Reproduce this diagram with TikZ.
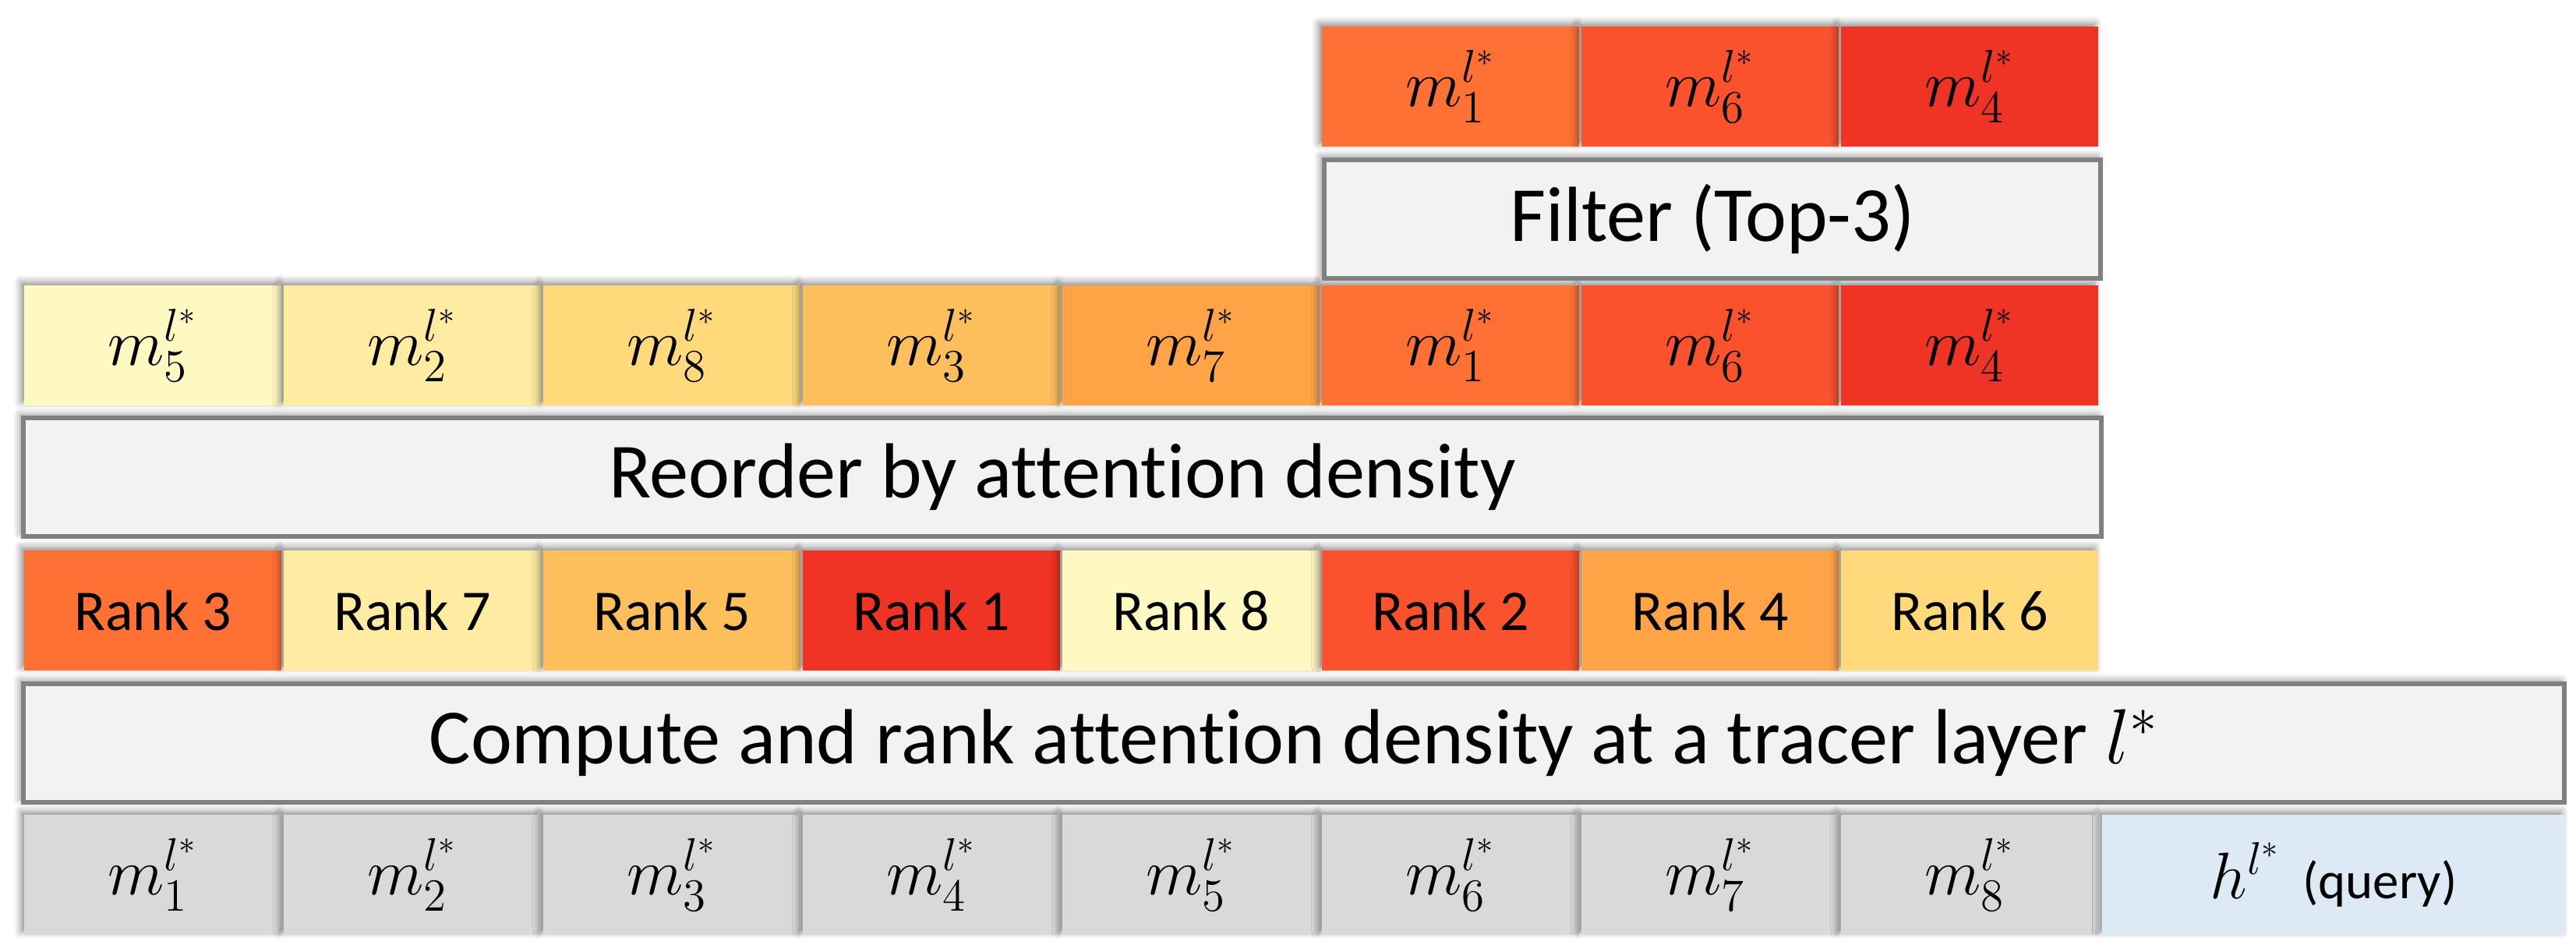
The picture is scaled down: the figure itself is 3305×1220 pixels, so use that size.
\documentclass[tikz,border=0pt]{standalone}
\usepackage{fix-cm}
\usepackage{fontspec}
\setmainfont[Ligatures=NoCommon]{Carlito}
\usetikzlibrary{shadows.blur}

\definecolor{rk1}{HTML}{EF3324}
\definecolor{rk2}{HTML}{FA522D}
\definecolor{rk3}{HTML}{FE7034}
\definecolor{rk4}{HTML}{FEA447}
\definecolor{rk5}{HTML}{FDBF5C}
\definecolor{rk6}{HTML}{FFD97A}
\definecolor{rk7}{HTML}{FFECA0}
\definecolor{rk8}{HTML}{FFF8C1}
\definecolor{tokgray}{HTML}{D9D9D9}
\definecolor{qblue}{HTML}{DDEAF6}
\definecolor{barfill}{HTML}{F2F2F2}
\definecolor{bardraw}{HTML}{808080}

\tikzset{
  shade/.style={blur shadow={shadow xshift=-1.2pt, shadow yshift=1.2pt,
      shadow blur radius=2.5pt, shadow opacity=45}},
  cell/.style={shade, minimum width=3.3cm, minimum height=1.54cm,
      inner sep=0pt, font=\fontsize{24}{26}\selectfont},
  rankcell/.style={cell, font=\fontsize{21}{23}\selectfont},
  stepbar/.style={shade, draw=bardraw, fill=barfill, line width=0.06cm,
      minimum height=1.52cm, inner sep=0pt, font=\fontsize{28.5}{31}\selectfont},
}

\begin{document}
\begin{tikzpicture}[x=0.01cm, y=-0.01cm]
\useasboundingbox (0,0) rectangle (3305,1220);

% tokens and query
\foreach \i in {1,...,8}
  \node[cell, fill=tokgray] (m\i) at ({196+333*(\i-1)},1122) {$m_{\i}^{l^*}$};
\node[cell, fill=qblue, minimum width=5.93cm] (q) at (2994,1122)
  {$h^{l^*}$\,\,{\fontsize{19}{21}\selectfont(query)}};

\node[stepbar, minimum width=32.58cm] (compute) at (1660,953)
  {Compute and rank attention density at a tracer layer $l^*$};

% ranks
\foreach \r [count=\i] in {3,7,5,1,8,2,4,6}
  \node[rankcell, fill=rk\r] (rank\i) at ({196+333*(\i-1)},783) {Rank \r};

\node[stepbar, minimum width=26.64cm] (reorder) at (1363,612)
  {Reorder by attention density};

% reordered
\foreach \k [count=\i] in {5,2,8,3,7,1,6,4} {
  \pgfmathtruncatemacro\r{9-\i}
  \node[cell, fill=rk\r] (ord\i) at ({196+333*(\i-1)},443) {$m_{\k}^{l^*}$};
}

\node[stepbar, minimum width=9.96cm] (filter) at (2197,281) {Filter (Top-3)};

% kept
\foreach \k [count=\i] in {1,6,4} {
  \pgfmathtruncatemacro\r{4-\i}
  \node[cell, fill=rk\r] (top\i) at ({196+333*(4+\i)},111) {$m_{\k}^{l^*}$};
}
\end{tikzpicture}
\end{document}
